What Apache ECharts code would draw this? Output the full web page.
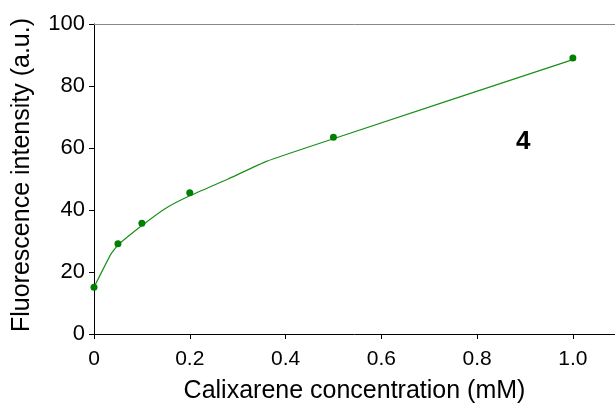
<!DOCTYPE html>
<html>
<head>
<meta charset="utf-8">
<style>
  html, body { margin: 0; padding: 0; background: #fff; }
  #chart { width: 615px; height: 409px; }
</style>
<script src="https://cdn.jsdelivr.net/npm/echarts@6/dist/echarts.min.js"></script>
</head>
<body>
<div id="chart"></div>
<script>
// measured points
const concX = [0, 0.05, 0.1, 0.2, 0.5, 1.0]
const intensityY = [15.1, 29.1, 35.7, 45.6, 63.5, 89.0]
// fitted curve
const fitX = [0, 0.035, 0.05, 0.1, 0.15, 0.2, 0.28, 0.36, 0.5, 1.0]
const fitY = [15.1, 25.7, 28.7, 35.0, 40.6, 44.6, 50.0, 55.7, 63.0, 88.5]
const xTicks = [0, 0.2, 0.4, 0.6, 0.8, 1.0]

const font = '"Liberation Sans", Arial, sans-serif'
const myChart = echarts.init(document.getElementById('chart'))

myChart.setOption({
  animation: false,
  grid: { left: 94, right: 0, top: 24, bottom: 73 },
  xAxis: [
    {
      type: 'value',
      min: 0,
      max: 1.088,
      interval: 0.2,
      name: 'Calixarene concentration (mM)',
      nameLocation: 'middle',
      nameGap: 45,
      nameTextStyle: { fontFamily: font, fontSize: 25, color: '#000' },
      axisLine: { lineStyle: { color: '#000', width: 1 } },
      axisTick: { show: true, length: 5, lineStyle: { color: '#000' } },
      axisLabel: {
        fontFamily: font, fontSize: 21, color: '#000', margin: 15,
        showMaxLabel: false,
        formatter: v => (xTicks.includes(Math.round(v * 10) / 10) ? (v === 0 ? '0' : v.toFixed(1)) : '')
      },
      splitLine: { show: false }
    },
    {
      type: 'value',
      position: 'top',
      min: 0,
      max: 1.088,
      axisLine: { show: true, lineStyle: { color: '#888', width: 1 } },
      axisTick: { show: false },
      axisLabel: { show: false },
      splitLine: { show: false }
    }
  ],
  yAxis: {
    type: 'value',
    min: 0,
    max: 100,
    interval: 20,
    name: 'Fluorescence intensity (a.u.)',
    nameLocation: 'middle',
    nameGap: 59,
    nameTextStyle: { fontFamily: font, fontSize: 25, color: '#000', padding: [0, 0, 0, 8] },
    axisLine: { show: true, lineStyle: { color: '#000', width: 1 } },
    axisTick: { show: true, length: 5, lineStyle: { color: '#000' } },
    axisLabel: { fontFamily: font, fontSize: 22, color: '#000', margin: 9 },
    splitLine: { show: false }
  },
  graphic: [
    {
      type: 'text',
      left: 516,
      top: 129,
      style: { text: '4', font: 'bold 26px ' + font, fill: '#000' }
    }
  ],
  series: [
    {
      type: 'line',
      data: fitX.map((x, i) => [x, fitY[i]]),
      showSymbol: false,
      smooth: 0.12,
      lineStyle: { color: '#1a8f1a', width: 1.2 },
      z: 2
    },
    {
      type: 'scatter',
      data: concX.map((x, i) => [x, intensityY[i]]),
      symbol: 'circle',
      symbolSize: 7,
      itemStyle: { color: '#008000', opacity: 1 },
      clip: false,
      z: 3
    }
  ]
})
</script>
</body>
</html>
